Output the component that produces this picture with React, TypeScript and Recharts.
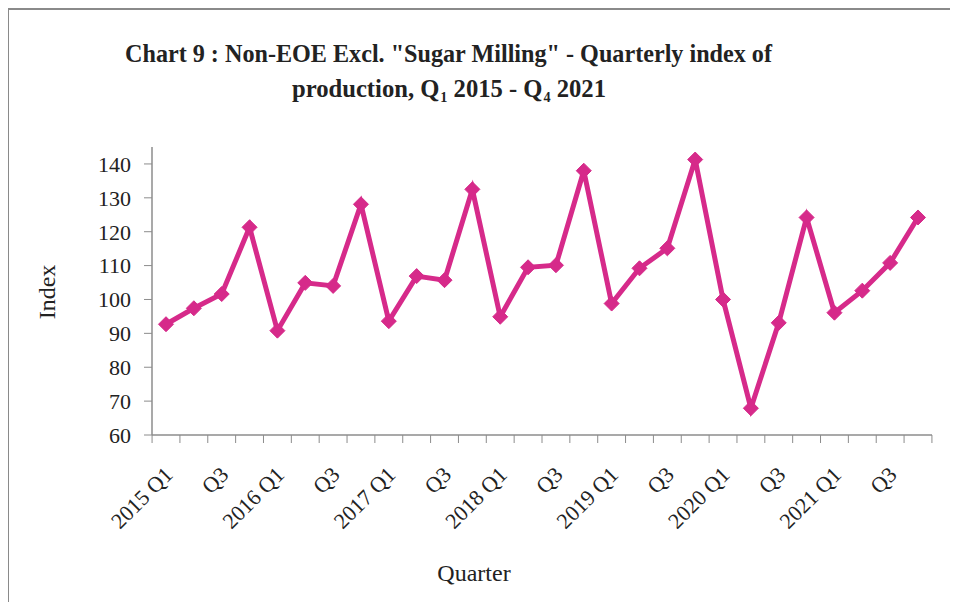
import { LineChart, Line, XAxis, YAxis } from 'recharts';

const quarters = [
  '2015 Q1', '2015 Q2', '2015 Q3', '2015 Q4',
  '2016 Q1', '2016 Q2', '2016 Q3', '2016 Q4',
  '2017 Q1', '2017 Q2', '2017 Q3', '2017 Q4',
  '2018 Q1', '2018 Q2', '2018 Q3', '2018 Q4',
  '2019 Q1', '2019 Q2', '2019 Q3', '2019 Q4',
  '2020 Q1', '2020 Q2', '2020 Q3', '2020 Q4',
  '2021 Q1', '2021 Q2', '2021 Q3', '2021 Q4',
];

// labels shown under the axis (Excel skips every other one)
const tickLabels = [
  '2015 Q1', '', 'Q3', '',
  '2016 Q1', '', 'Q3', '',
  '2017 Q1', '', 'Q3', '',
  '2018 Q1', '', 'Q3', '',
  '2019 Q1', '', 'Q3', '',
  '2020 Q1', '', 'Q3', '',
  '2021 Q1', '', 'Q3', '',
];

const indexValues = [
  92.7, 97.4, 101.6, 121.3,
  90.8, 104.9, 104.0, 128.1,
  93.6, 106.9, 105.7, 132.5,
  94.9, 109.5, 110.1, 138.0,
  98.8, 109.2, 115.1, 141.3,
  100.0, 67.9, 93.1, 124.2,
  96.1, 102.6, 110.8, 124.2,
];

const yTicks = [60, 70, 80, 90, 100, 110, 120, 130, 140];

const data = quarters.map((q, i) => ({ quarter: q, label: tickLabels[i], index: indexValues[i] }));

const PINK = '#D62A8A';
const AXIS = '#8c8c8c';
const TEXT = '#222';
const FONT = '"Liberation Serif", "Times New Roman", serif';
const PAD = 14;

function QuarterTick(props: any) {
  const { x, y, payload, index, width, visibleTicksCount } = props;
  const step = (width - PAD * 2) / (visibleTicksCount - 1);
  const half = step / 2;
  const label = data[index] ? data[index].label : '';
  const isLast = index === visibleTicksCount - 1;
  const ax = x + 8;
  const ay = y + 41;
  return (
    <g>
      <line x1={x - half} x2={x - half} y1={y} y2={y + 8} stroke={AXIS} />
      {isLast && <line x1={x + half} x2={x + half} y1={y} y2={y + 8} stroke={AXIS} />}
      {label && (
        <text
          x={ax}
          y={ay}
          transform={`rotate(-45 ${ax} ${ay})`}
          textAnchor="end"
          fontSize={22}
          fontFamily={FONT}
          fill={TEXT}
        >
          {label}
        </text>
      )}
      <title>{payload.value}</title>
    </g>
  );
}

function Diamond(props: any) {
  const { cx, cy } = props;
  if (cx == null || cy == null) return null;
  const r = 7.5;
  return (
    <path
      d={`M${cx},${cy - r} L${cx + r},${cy} L${cx},${cy + r} L${cx - r},${cy} Z`}
      fill={PINK}
      stroke={PINK}
    />
  );
}

export default function App() {
  return (
    <div style={{ position: 'relative', width: 958, height: 602, marginLeft: -8, marginTop: -8, background: '#fff', overflow: 'hidden' }}>
      <LineChart
        width={958}
        height={602}
        data={data}
        margin={{ top: 147, right: 26, bottom: 67, left: 82 }}
      >
        <XAxis
          dataKey="quarter"
          interval={0}
          padding={{ left: PAD, right: PAD }}
          height={100}
          axisLine={{ stroke: AXIS, strokeWidth: 1.5 }}
          tickLine={false}
          tickSize={0}
          tickMargin={0}
          tick={<QuarterTick />}
        />
        <YAxis
          domain={[60, 145]}
          ticks={yTicks}
          interval={0}
          width={70}
          axisLine={{ stroke: AXIS, strokeWidth: 1.5 }}
          tickLine={{ stroke: AXIS }}
          tickSize={8}
          tickMargin={13}
          tick={{ fontSize: 22, fontFamily: FONT, fill: TEXT }}
        />
        <Line
          dataKey="index"
          stroke={PINK}
          strokeWidth={5}
          dot={<Diamond />}
          activeDot={false}
          isAnimationActive={false}
        />
      </LineChart>
      <svg width={958} height={602} style={{ position: 'absolute', left: 0, top: 0, pointerEvents: 'none' }}>
        <rect x={8} y={9} width={1000} height={700} fill="none" stroke="#8a8a8a" strokeWidth={2} />
        <g fontFamily={FONT} fontWeight="bold" fontSize={26} fill={TEXT}>
          <text x={448.5} y={62} textAnchor="middle" textLength={647} lengthAdjust="spacingAndGlyphs">
            Chart 9 : Non-EOE Excl. "Sugar Milling" - Quarterly index of
          </text>
          <text x={449} y={97} textAnchor="middle" textLength={314} lengthAdjust="spacingAndGlyphs">
            production, Q<tspan fontSize={15} dx={1} dy={5}>1</tspan>
            <tspan dy={-5}> 2015 - Q</tspan>
            <tspan fontSize={15} dx={1} dy={5}>4</tspan>
            <tspan dy={-5}> 2021</tspan>
          </text>
        </g>
        <text
          x={55}
          y={292}
          transform="rotate(-90 55 292)"
          textAnchor="middle"
          fontFamily={FONT}
          fontSize={24}
          fill={TEXT}
        >
          Index
        </text>
        <text x={474} y={581} textAnchor="middle" fontFamily={FONT} fontSize={24} fill={TEXT}>
          Quarter
        </text>
      </svg>
    </div>
  );
}
